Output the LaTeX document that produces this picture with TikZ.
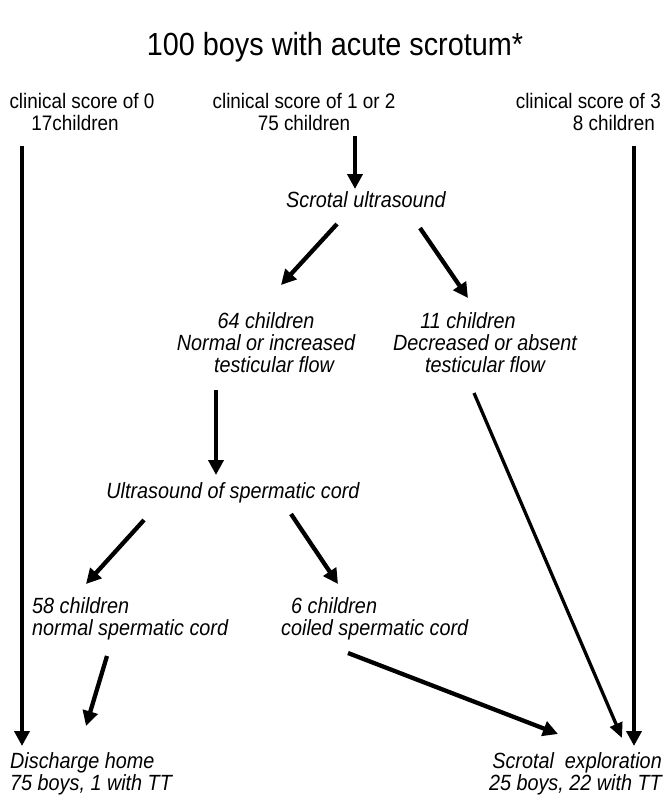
\documentclass[tikz,border=0pt]{standalone}
\usepackage{fontspec}
\setmainfont[FakeStretch=0.9]{Liberation Sans}
\usetikzlibrary{arrows.meta}
\begin{document}
\begin{tikzpicture}[x=1pt,y=-1pt,
  lbl/.style={inner sep=0pt,font=\fontsize{21}{22}\selectfont},
  itl/.style={inner sep=0pt,font=\fontsize{22}{22}\selectfont\itshape},
  arr/.style={line width=4.3pt,-{Triangle[length=15pt,width=15pt]}},
  arrthin/.style={line width=3.3pt,-{Triangle[length=15pt,width=13pt]}}]
\useasboundingbox[fill=white] (0,0) rectangle (664,801);
\node[inner sep=0pt,font=\fontsize{32}{34}\selectfont,anchor=base] (title) at (335,55) {100 boys with acute scrotum*};
\node[lbl,align=center] (s0) at (82,112) {clinical score of 0\\17children\hspace*{14pt}};
\node[lbl,align=center] (s12) at (304,112) {clinical score of 1 or 2\\75 children};
\node[lbl,align=right,anchor=east] (s3) at (661,112) {clinical score of 3\\8 children\hspace*{6pt}};
\node[itl] (us) at (366,200) {Scrotal ultrasound};
\node[itl,align=center] (n64) at (266,343) {64 children\\Normal or increased\\\hspace*{16pt}testicular flow};
\node[itl,align=center] (n11) at (485,343) {11 children\hspace*{34pt}\\Decreased or absent\\testicular flow};
\node[itl] (usc) at (233,493) {Ultrasound of spermatic cord};
\node[itl,align=left,anchor=west] (n58) at (32,619) {58 children\\normal spermatic cord};
\node[itl,align=left,anchor=west] (n6) at (281,619) {\hspace*{10pt}6 children\\coiled spermatic cord};
\node[itl,align=left,anchor=west] (dis) at (10,774) {Discharge home\\75 boys, 1 with TT};
\node[itl,align=right,anchor=east] (exp) at (662,774) {Scrotal\ \ exploration\\25 boys, 22 with TT};
\coordinate (a1s) at (22,146);  \coordinate (a1e) at (22,746);
\coordinate (a2s) at (355,136); \coordinate (a2e) at (355,189);
\coordinate (a3s) at (634,146); \coordinate (a3e) at (634,746);
\coordinate (a4s) at (337,224); \coordinate (a4e) at (281,285);
\coordinate (a5s) at (420,228); \coordinate (a5e) at (468,298);
\coordinate (a6s) at (216,390); \coordinate (a6e) at (216,475);
\coordinate (a7s) at (144,520); \coordinate (a7e) at (86,584);
\coordinate (a8s) at (291,514); \coordinate (a8e) at (338,584);
\coordinate (a9s) at (107,656); \coordinate (a9e) at (86,726);
\coordinate (a10s) at (348,653); \coordinate (a10e) at (558,734);
\coordinate (a11s) at (474,393); \coordinate (a11e) at (622,738);
\draw[arr] (a1s) -- (a1e);
\draw[arr] (a2s) -- (a2e);
\draw[arr] (a3s) -- (a3e);
\draw[arr] (a4s) -- (a4e);
\draw[arr] (a5s) -- (a5e);
\draw[arr] (a6s) -- (a6e);
\draw[arr] (a7s) -- (a7e);
\draw[arr] (a8s) -- (a8e);
\draw[arr] (a9s) -- (a9e);
\draw[arr] (a10s) -- (a10e);
\draw[arrthin] (a11s) -- (a11e);
\end{tikzpicture}
\end{document}
